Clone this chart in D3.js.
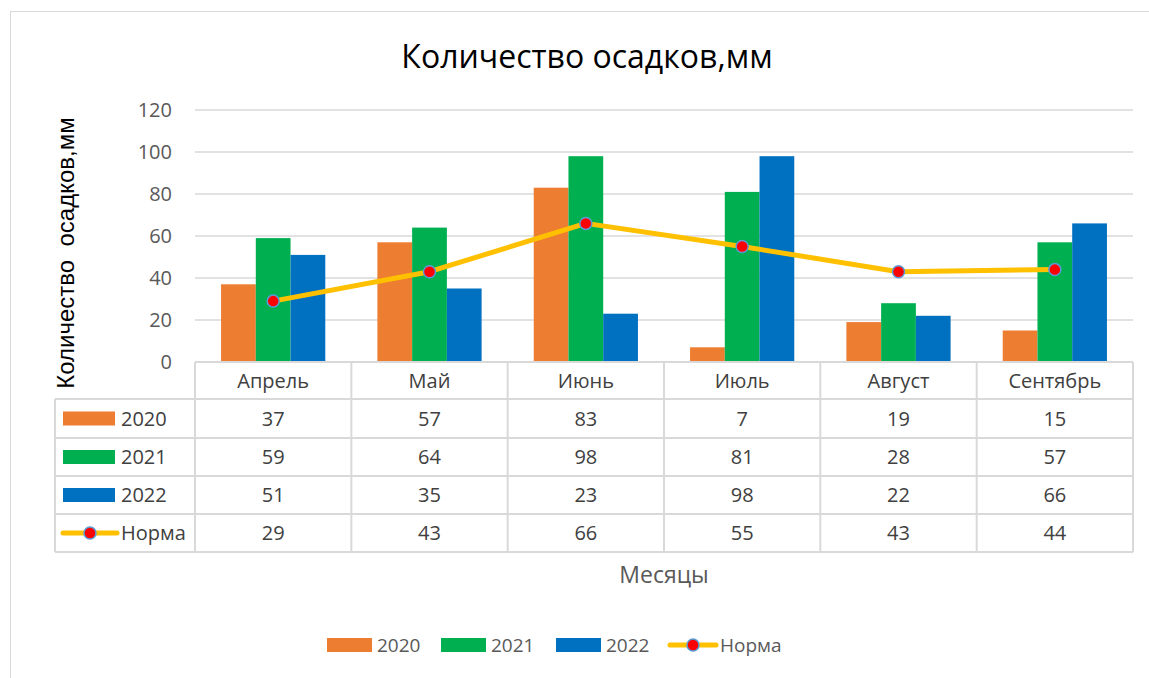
<!DOCTYPE html>
<html>
<head>
<meta charset="utf-8">
<title>Количество осадков</title>
<script src="https://cdn.jsdelivr.net/npm/d3@7"></script>
<style>
  body { margin: 0; background: #fff; }
  text { font-family: "Open Sans", "Noto Sans", sans-serif; }
</style>
</head>
<body>
<script>
var W = 1149, H = 678;

var months = ["Апрель", "Май", "Июнь", "Июль", "Август", "Сентябрь"];
var seriesNames = ["2020", "2021", "2022"];
var v2020 = [37, 57, 83, 7, 19, 15];
var v2021 = [59, 64, 98, 81, 28, 57];
var v2022 = [51, 35, 23, 98, 22, 66];
var norma = [29, 43, 66, 55, 43, 44];
var yTicks = [0, 20, 40, 60, 80, 100, 120];

var colors = ["#ED7D31", "#00B050", "#0070C0"];
var lineColor = "#FFC000";
var barSeries = [v2020, v2021, v2022];

var svg = d3.select("body").append("svg")
  .attr("width", W).attr("height", H);

// chart frame
svg.append("rect")
  .attr("x", 10.5).attr("y", 11.5)
  .attr("width", W + 10).attr("height", H + 10)
  .attr("fill", "none").attr("stroke", "#D9D9D9").attr("stroke-width", 1);

var pLeft = 195, pRight = 1133, pTop = 110, pBottom = 362;

var x = d3.scaleBand().domain(months).range([pLeft, pRight]).paddingInner(0).paddingOuter(0);
var y = d3.scaleLinear().domain([0, 120]).range([pBottom, pTop]);
var inner = d3.scaleBand().domain(seriesNames)
  .range([0, x.bandwidth()]).paddingOuter(0.75).paddingInner(0);

// title
svg.append("text")
  .attr("x", 587).attr("y", 68)
  .attr("text-anchor", "middle")
  .attr("font-size", 32).attr("fill", "#000")
  .text("Количество осадков,мм");

// gridlines
svg.append("g").selectAll("line").data(yTicks.filter(function(d){ return d > 0; }))
  .enter().append("line")
  .attr("x1", pLeft).attr("x2", pRight)
  .attr("y1", function(d){ return y(d); }).attr("y2", function(d){ return y(d); })
  .attr("stroke", "#D9D9D9").attr("stroke-width", 1.5);

// y axis labels
var yAxis = d3.axisLeft(y).tickValues(yTicks).tickSize(0).tickPadding(23);
var ga = svg.append("g").attr("transform", "translate(" + pLeft + ",0)").call(yAxis);
ga.select(".domain").remove();
ga.selectAll("text")
  .attr("font-size", 20).attr("fill", "#595959");

// y title
svg.append("text")
  .attr("transform", "translate(74,253) rotate(-90)")
  .attr("text-anchor", "middle")
  .style("font-family", "'Liberation Sans', Arial, sans-serif")
  .attr("font-size", 24).attr("fill", "#000")
  .attr("xml:space", "preserve")
  .text("Количество  осадков,мм");

// bars
barSeries.forEach(function(vals, si) {
  svg.append("g").selectAll("rect").data(vals).enter().append("rect")
    .attr("x", function(d, i){ return x(months[i]) + inner(seriesNames[si]); })
    .attr("width", inner.bandwidth())
    .attr("y", function(d){ return y(d); })
    .attr("height", function(d){ return y(0) - y(d); })
    .attr("fill", colors[si]);
});

// line
var line = d3.line()
  .x(function(d, i){ return x(months[i]) + x.bandwidth() / 2; })
  .y(function(d){ return y(d); });
svg.append("path").datum(norma)
  .attr("d", line)
  .attr("fill", "none").attr("stroke", lineColor)
  .attr("stroke-width", 5).attr("stroke-linejoin", "round");
svg.append("g").selectAll("circle").data(norma).enter().append("circle")
  .attr("cx", function(d, i){ return x(months[i]) + x.bandwidth() / 2; })
  .attr("cy", function(d){ return y(d); })
  .attr("r", 6)
  .attr("fill", "#FF0000").attr("stroke", "#5B9BD5").attr("stroke-width", 1.5);

// data table
var rowH = [pBottom, 399, 438, 476, 514, 552];
var tableLeft = 55;
var gridColor = "#D9D9D9";
var tg = svg.append("g");

tg.append("line").attr("x1", pLeft).attr("x2", pRight).attr("y1", pBottom).attr("y2", pBottom)
  .attr("stroke", gridColor).attr("stroke-width", 2);
rowH.slice(1).forEach(function(yy) {
  tg.append("line").attr("x1", tableLeft).attr("x2", pRight).attr("y1", yy).attr("y2", yy)
    .attr("stroke", gridColor).attr("stroke-width", 2);
});
tg.append("line").attr("x1", tableLeft).attr("x2", tableLeft).attr("y1", rowH[1]).attr("y2", rowH[5])
  .attr("stroke", gridColor).attr("stroke-width", 2);
months.forEach(function(m) {
  tg.append("line").attr("x1", x(m)).attr("x2", x(m)).attr("y1", pBottom).attr("y2", rowH[5])
    .attr("stroke", gridColor).attr("stroke-width", 2);
});
tg.append("line").attr("x1", pRight).attr("x2", pRight).attr("y1", pBottom).attr("y2", rowH[5])
  .attr("stroke", gridColor).attr("stroke-width", 2);

// header text
tg.selectAll("text.head").data(months).enter().append("text")
  .attr("class", "head")
  .attr("x", function(d){ return x(d) + x.bandwidth() / 2; })
  .attr("y", (rowH[0] + rowH[1]) / 2 + 7)
  .attr("text-anchor", "middle").attr("font-size", 20).attr("fill", "#404040")
  .text(function(d){ return d; });

var tableRows = [v2020, v2021, v2022, norma];
var rowNames = ["2020", "2021", "2022", "Норма"];
tableRows.forEach(function(vals, r) {
  var cy = (rowH[r + 1] + rowH[r + 2]) / 2;
  tg.append("g").selectAll("text").data(vals).enter().append("text")
    .attr("x", function(d, i){ return x(months[i]) + x.bandwidth() / 2; })
    .attr("y", cy + 7)
    .attr("text-anchor", "middle").attr("font-size", 20).attr("fill", "#404040")
    .text(function(d){ return d; });
  if (r < 3) {
    tg.append("rect").attr("x", 63).attr("y", cy - 7).attr("width", 52).attr("height", 14)
      .attr("fill", colors[r]);
  } else {
    tg.append("line").attr("x1", 63).attr("x2", 117).attr("y1", cy).attr("y2", cy)
      .attr("stroke", lineColor).attr("stroke-width", 5).attr("stroke-linecap", "round");
    tg.append("circle").attr("cx", 90).attr("cy", cy).attr("r", 6)
      .attr("fill", "#FF0000").attr("stroke", "#5B9BD5").attr("stroke-width", 1.5);
  }
  tg.append("text").attr("x", 121).attr("y", cy + 7)
    .attr("font-size", 20).attr("fill", "#404040").text(rowNames[r]);
});

// x title
svg.append("text")
  .attr("x", 664).attr("y", 583)
  .attr("text-anchor", "middle").attr("font-size", 23).attr("fill", "#595959")
  .text("Месяцы");

// bottom legend
var legX = [327, 441, 556];
seriesNames.forEach(function(n, i) {
  svg.append("rect").attr("x", legX[i]).attr("y", 638).attr("width", 45).attr("height", 14)
    .attr("fill", colors[i]);
  svg.append("text").attr("x", legX[i] + 50).attr("y", 652)
    .attr("font-size", 19).attr("fill", "#595959").text(n);
});
svg.append("line").attr("x1", 670).attr("x2", 716).attr("y1", 645).attr("y2", 645)
  .attr("stroke", lineColor).attr("stroke-width", 5).attr("stroke-linecap", "round");
svg.append("circle").attr("cx", 693).attr("cy", 645).attr("r", 6)
  .attr("fill", "#FF0000").attr("stroke", "#5B9BD5").attr("stroke-width", 1.5);
svg.append("text").attr("x", 720).attr("y", 652)
  .attr("font-size", 19).attr("fill", "#595959").text("Норма");
</script>
</body>
</html>
